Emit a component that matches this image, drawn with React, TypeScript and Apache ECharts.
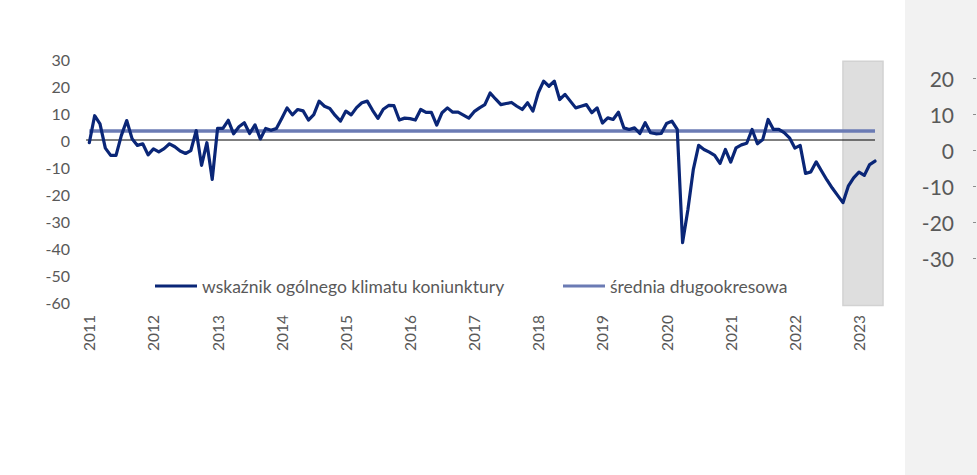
import React, { useEffect, useRef } from "react";
import * as echarts from "echarts";

// Monthly data: Jan 2011 .. Apr 2023 (148 months)
const yearLabels = ["2011", "2012", "2013", "2014", "2015", "2016", "2017", "2018", "2019", "2020", "2021", "2022", "2023"];
const climateValues = [
  -1, 9, 6, -3, -5.7, -5.7, 1.7, 7.2, 0.5, -2, -1.4, -5.5,
  -3.3, -4.4, -3.2, -1.4, -2.5, -4.1, -5, -3.9, 3.5, -9.4, -1, -14.6,
  4.3, 4.3, 7.3, 2.3, 4.9, 6.4, 2.4, 5.6, 0.4, 4.3, 3.6, 4.3,
  8, 11.9, 9.3, 11.3, 10.8, 7.4, 9.4, 14.4, 12.5, 11.7, 9.1, 7,
  10.7, 9.3, 12, 13.8, 14.4, 11, 8, 11.4, 12.8, 12.7, 7.4, 8.1,
  7.9, 7.4, 11.3, 10.2, 10.2, 5.5, 10.1, 11.9, 10.3, 10.3, 9.2, 8.1,
  10.5, 11.9, 13.1, 17.4, 15.2, 13.1, 13.5, 13.9, 12.5, 11.3, 13.8, 10.7,
  17.5, 21.8, 19.9, 21.8, 15, 16.9, 14.4, 11.9, 12.5, 13.1, 10.1, 11.9,
  6.3, 8.2, 7.6, 10.3, 4.5, 3.9, 4.5, 2.4, 6.4, 2.7, 2.3, 2.4,
  6.1, 7, 3.9, -38, -25.7, -11, -2, -3.5, -4.5, -5.7, -8.7, -3.5,
  -8.2, -2.9, -1.8, -1.2, 3.9, -1.4, 0.2, 7.6, 3.9, 3.9, 2.7, 0.8,
  -3, -2, -12.4, -11.8, -8.1, -11.5, -14.8, -17.8, -20.5, -23.2, -17.1, -14,
  -11.9, -13.1, -9.1, -7.8,
];
const longTermAverage = 3.3;
// shaded period (month index from Jan 2011): Oct 2022 onward
const shadeFrom = 141;
const shadeTo = 148.5;
const shadeTop = 29.2;
const shadeBottom = -61.3;

const leftTicks = { min: -60, max: 30, interval: 10 };
const rightTicks = { min: -30, max: 20, interval: 10 };

const mainName = "wskaźnik ogólnego klimatu koniunktury";
const avgName = "średnia długookresowa";

export default function App() {
  const ref = useRef<HTMLDivElement>(null);
  useEffect(() => {
    if (!ref.current) return;
    const chart = echarts.init(ref.current, undefined, { renderer: "svg" });
    const last = climateValues.length - 1;
    const font = "Lato";
    const labelColor = "#595959";
    const legendBase = {
      icon: "rect",
      itemWidth: 42,
      itemHeight: 3,
      padding: 0,
      top: 277,
      textStyle: { fontSize: 17.5, fontFamily: font, color: labelColor },
    };
    chart.setOption({
      animation: false,
      backgroundColor: "#ffffff",
      graphic: [
        {
          type: "rect",
          left: 905,
          top: 0,
          shape: { width: 72, height: 475 },
          style: { fill: "#f2f2f2" },
          z: 0,
        },
      ],
      grid: [
        { left: 83.955, right: 91.3, top: 59, bottom: 173 },
        { left: 976, right: 0, top: 78, bottom: 216.5 },
      ],
      legend: [
        { ...legendBase, data: [mainName], left: 155 },
        { ...legendBase, data: [avgName], left: 563 },
      ],
      xAxis: [
        {
          gridIndex: 0,
          type: "value",
          min: -1,
          max: 149,
          interval: 1,
          axisLine: { show: false },
          axisTick: { show: false },
          splitLine: { show: false },
          axisLabel: {
            rotate: 90,
            margin: 13,
            fontSize: 15.5,
            fontFamily: font,
            color: labelColor,
            formatter: (v: number) => {
              if (v < 0 || v % 12 !== 0) return "";
              return yearLabels[v / 12] ?? "";
            },
          },
        },
        { gridIndex: 1, type: "value", show: false },
      ],
      yAxis: [
        {
          gridIndex: 0,
          type: "value",
          min: leftTicks.min,
          max: leftTicks.max,
          interval: leftTicks.interval,
          axisLine: { show: false },
          axisTick: { show: false },
          splitLine: { show: false },
          axisLabel: { margin: 14, fontSize: 16, fontFamily: font, color: labelColor },
        },
        {
          gridIndex: 1,
          type: "value",
          min: rightTicks.min,
          max: rightTicks.max,
          interval: rightTicks.interval,
          axisLine: { show: false },
          axisTick: { show: true, length: 3, lineStyle: { color: "#8c8c8c", width: 1 } },
          splitLine: { show: false },
          axisLabel: { margin: 22, fontSize: 21, fontFamily: font, color: labelColor },
        },
      ],
      series: [
        {
          type: "custom",
          name: "shade",
          xAxisIndex: 0,
          yAxisIndex: 0,
          clip: false,
          z: 1,
          silent: true,
          data: [[shadeFrom, shadeTo, shadeTop, shadeBottom]],
          renderItem: (params: any, api: any) => {
            const p1 = api.coord([api.value(0), api.value(2)]);
            const p2 = api.coord([api.value(1), api.value(3)]);
            return {
              type: "rect",
              shape: { x: p1[0], y: p1[1], width: p2[0] - p1[0], height: p2[1] - p1[1] },
              style: { fill: "#dedede", stroke: "#d2d2d2", lineWidth: 1.5 },
            };
          },
        },
        {
          type: "line",
          name: "zero",
          xAxisIndex: 0,
          yAxisIndex: 0,
          data: [[-0.6, 0], [last, 0]],
          showSymbol: false,
          symbol: "none",
          lineStyle: { color: "#000000", width: 1 },
          z: 3,
          silent: true,
        },
        {
          type: "line",
          name: avgName,
          xAxisIndex: 0,
          yAxisIndex: 0,
          data: [[0, longTermAverage], [last, longTermAverage]],
          showSymbol: false,
          symbol: "none",
          color: "#6b7bb4",
          lineStyle: { color: "#6b7bb4", width: 3.5 },
          z: 3,
        },
        {
          type: "line",
          name: mainName,
          xAxisIndex: 0,
          yAxisIndex: 0,
          data: climateValues.map((v, i) => [i, v]),
          showSymbol: false,
          symbol: "none",
          color: "#0a2677",
          lineStyle: { color: "#0a2677", width: 3.2, join: "round", cap: "round" },
          z: 4,
        },
      ],
    });
    return () => chart.dispose();
  }, []);
  return (
    <div
      ref={ref}
      style={{ position: "fixed", left: 0, top: 0, width: 977, height: 475 }}
    />
  );
}
